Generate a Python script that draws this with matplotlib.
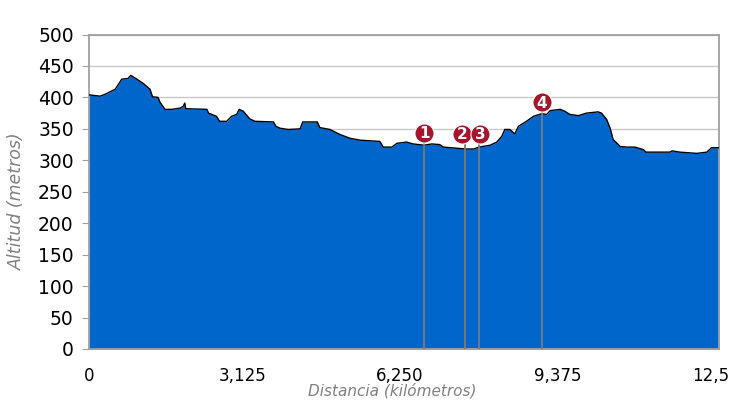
import numpy as np
import matplotlib.pyplot as plt
import matplotlib.transforms as mtransforms

# Perfil de altitud (km, metros)
dist_km = [0.00, 0.22, 0.32, 0.52, 0.65, 0.77, 0.83, 0.95, 1.08, 1.21, 1.26, 1.37,
           1.41, 1.51, 1.64, 1.81, 1.87, 1.90, 1.92, 2.34, 2.37, 2.53, 2.59, 2.73,
           2.83, 2.93, 2.98, 3.06, 3.19, 3.29, 3.66, 3.71, 3.79, 3.95, 4.19, 4.24,
           4.53, 4.58, 4.78, 4.98, 5.18, 5.38, 5.77, 5.84, 6.01, 6.11, 6.30, 6.43,
           6.65, 6.80, 6.96, 7.03, 7.47, 7.63, 7.74, 7.96, 8.09, 8.19, 8.25, 8.35,
           8.45, 8.52, 8.68, 8.82, 8.98, 9.08, 9.15, 9.35, 9.44, 9.54, 9.71, 9.87,
           10.10, 10.17, 10.27, 10.34, 10.40, 10.54, 10.67, 10.83, 11.00, 11.05,
           11.53, 11.57, 11.72, 12.06, 12.26, 12.35, 12.50]
altitud = [404, 402, 405, 413, 429, 430, 435, 429, 422, 413, 401, 400,
           392, 381, 381, 383, 386, 391, 382, 381, 375, 370, 362, 362,
           370, 373, 381, 378, 366, 362, 361, 354, 351, 349, 350, 361,
           361, 352, 349, 341, 335, 332, 330, 321, 321, 327, 329, 326,
           324, 326, 325, 321, 318, 318, 321, 324, 329, 338, 349, 349,
           342, 354, 362, 370, 374, 373, 379, 381, 378, 373, 371, 375,
           377, 375, 365, 351, 333, 322, 321, 321, 317, 313,
           313, 315, 313, 311, 313, 320, 320]

# Puntos de interes
marcas = ['1', '2', '3', '4']
marca_km = [6.65, 7.47, 7.74, 8.98]
marca_circ_km = [6.65, 7.40, 7.76, 8.98]
marca_circ_alt = [344, 342, 342, 392]

xticks = [0, 3.125, 6.25, 9.375, 12.5]
xlabels = ['0', '3,125', '6,250', '9,375', '12,5']
yticks = list(range(0, 501, 50))

fig = plt.figure(figsize=(7.3, 4.07), dpi=100)
ax = fig.add_axes([89 / 730, 58 / 407, 630 / 730, 314.5 / 407])

ax.fill_between(dist_km, altitud, 0, color='#0066CC', zorder=2, linewidth=0)
ax.plot(dist_km, altitud, color='black', linewidth=1.0, zorder=3)

for lab, xk, cx, cy in zip(marcas, marca_km, marca_circ_km, marca_circ_alt):
    ax.plot([xk, xk], [0, cy], color='#7a7a7a', linewidth=1.3, zorder=4)
    ax.scatter([cx], [cy], s=190, color='#A3162C', edgecolors='white',
               linewidths=0.8, zorder=5)
    ax.text(cx, cy - 1, lab, color='white', fontsize=11, fontweight='bold',
            ha='center', va='center', zorder=6)

ax.set_xlim(0, 12.5)
ax.set_ylim(0, 500)
ax.set_yticks(yticks)
ax.set_xticks(xticks)
ax.set_xticklabels(xlabels)
ax.grid(axis='y', color='#c8c8c8', linewidth=1.0, zorder=0)
ax.set_axisbelow(True)

for s in ax.spines.values():
    s.set_color('#a0a0a0')
    s.set_linewidth(1.3)

ax.tick_params(axis='y', length=5, color='#a0a0a0', labelsize=13.5, pad=6)
ax.tick_params(axis='x', length=0, labelsize=12, pad=13)

# las etiquetas del eje x van algo a la izquierda, la ultima mas
for i, t in enumerate(ax.get_xticklabels()):
    if i == 0:
        dx = 0
    elif i == len(xlabels) - 1:
        dx = -8
    else:
        dx = -4
    t.set_transform(t.get_transform() + mtransforms.ScaledTranslation(dx / 100, 0, fig.dpi_scale_trans))

fig.text(392 / 730, 8 / 407, 'Distancia (kilómetros)', ha='center', va='bottom',
         fontsize=11, style='italic', color='#808080')
fig.text(17 / 730, (407 - 201) / 407, 'Altitud (metros)', ha='center', va='center',
         rotation=90, fontsize=12.5, style='italic', color='#808080')

plt.savefig('out.png', dpi=100)
